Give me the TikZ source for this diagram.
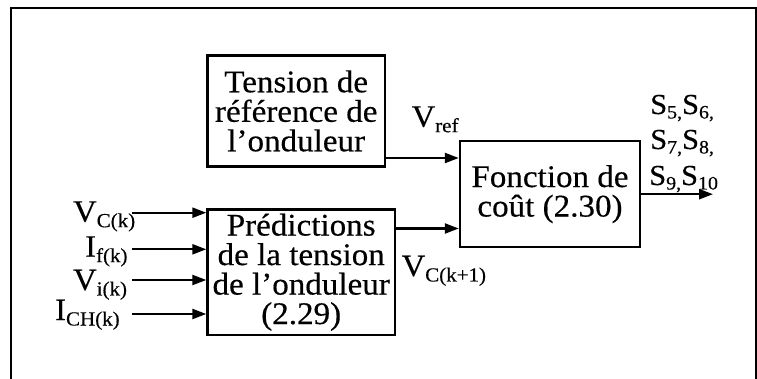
\documentclass[tikz,border=0pt]{standalone}
\usepackage{fontspec}
\setmainfont{Liberation Serif}[FakeStretch=1.05,FakeBold=0.4]
\usetikzlibrary{arrows.meta}
% lowered subscripts set in upright text
\newcommand\lo[1]{\raisebox{-5.5pt}{\fontsize{20}{20}\selectfont #1}}
\newcommand\los[1]{\raisebox{-4.5pt}{\fontsize{19}{19}\selectfont #1}}
\begin{document}
\begin{tikzpicture}[x=1pt,y=-1pt,
  blk/.style={draw,line width=2.5pt,inner sep=0pt,align=center,
    font=\fontsize{31.5}{29.5}\selectfont},
  arr/.style={line width=2.3pt,-{Triangle[length=14pt,width=10pt]}},
  lbl/.style={inner sep=0pt,anchor=base west,font=\fontsize{31}{31}\selectfont},
  slbl/.style={inner sep=0pt,anchor=base west,font=\fontsize{29}{29}\selectfont}]
\useasboundingbox (0,0) rectangle (757,379);
% outer frame
\draw[line width=2.2pt] (11,385) -- (11,8) -- (756,8) -- (756,385);

% blocks
\node[blk,minimum width=177.5pt,minimum height=111pt] (ref) at (296.2,111)
  {Tension de\\référence de\\l’onduleur};
\node[blk,minimum width=187.3pt,minimum height=125.5pt] (pred) at (301.2,272.2)
  {Prédictions\\de la tension\\de l’onduleur\\(2.29)};
\node[blk,minimum width=180pt,minimum height=106pt] (fn) at (550,194.2)
  {Fonction de\\coût (2.30)};

% connector rows
\coordinate (rowref) at (0,158);
\coordinate (rowpred) at (0,228.5);
\coordinate (in1) at (132,212.7);
\coordinate (in2) at (132,249.3);
\coordinate (in3) at (132,280);
\coordinate (in4) at (132,314);
\coordinate (outend) at (713,194.2);

\draw[arr] (ref.east |- rowref) -- (fn.west |- rowref);
\draw[arr] (pred.east |- rowpred) -- (fn.west |- rowpred);
\draw[arr] (fn.east) -- (outend);
\draw[arr] (in1) -- (in1 -| pred.west);
\draw[arr] (in2) -- (in2 -| pred.west);
\draw[arr] (in3) -- (in3 -| pred.west);
\draw[arr] (in4) -- (in4 -| pred.west);

% signal labels
\node[lbl] (vck)  at (73,221.7)  {V\lo{C(k)}};
\node[lbl] (ifk)  at (85,256.7)  {I\lo{f(k)}};
\node[lbl] (vik)  at (73,290)    {V\lo{i(k)}};
\node[lbl] (ichk) at (55,320)    {I\lo{CH(k)}};
\node[lbl] (vref) at (411.5,126.7) {V\lo{ref}};
\node[lbl] (vck1) at (401.5,276) {V\lo{C(k+1)}};

\node[slbl] (s1) at (650,114) {S\los{5,}S\los{6,}};
\node[slbl] (s2) at (650,149) {S\los{7,}S\los{8,}};
\node[slbl] (s3) at (649,185) {S\los{9,}S\los{10}};
\end{tikzpicture}
\end{document}
